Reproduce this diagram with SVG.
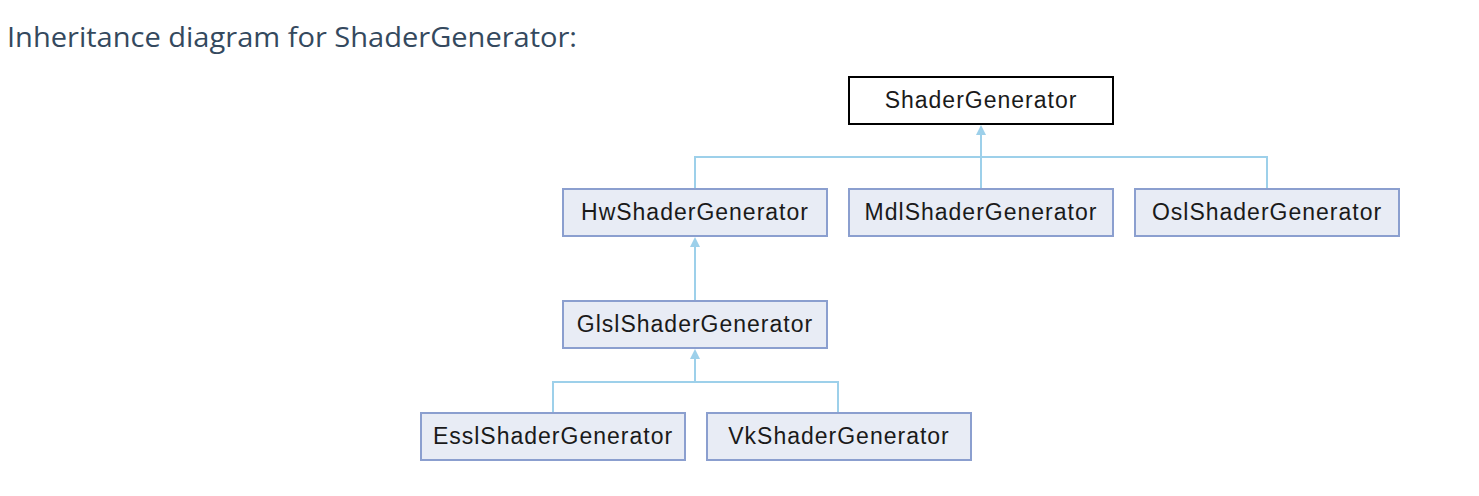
<svg xmlns="http://www.w3.org/2000/svg" width="1479" height="496" viewBox="0 0 1479 496">
<style>
.title{font-family:"Open Sans","Noto Sans",sans-serif;font-size:28px;fill:#34495e}
.box{fill:#e8ecf5;stroke:#8b9fcf;stroke-width:2}
.root{fill:#ffffff;stroke:#000000;stroke-width:2}
.lbl{font-family:"Liberation Sans",Arial,sans-serif;font-size:23px;letter-spacing:1px;fill:#1a1a1a;text-anchor:middle}
.edge{fill:none;stroke:#9dd0ea;stroke-width:2}
.ah{fill:#9dd0ea}
</style>
<rect width="1479" height="496" fill="#ffffff"/>
<text class="title" x="7" y="47" textLength="570" lengthAdjust="spacingAndGlyphs">Inheritance diagram for ShaderGenerator:</text>
<g id="connectors">
<path class="edge" d="M981,133 V188 M695,188 V157 H1267 V188"/>
<polygon class="ah" points="981,125 976,135 986,135"/>
<path class="edge" d="M695,245 V300"/>
<polygon class="ah" points="695,237 690,247 700,247"/>
<path class="edge" d="M695,357 V382 M553,412 V382 H838 V412"/>
<polygon class="ah" points="695,349 690,359 700,359"/>
</g>
<g id="ShaderGenerator"><rect class="root" x="849" y="77" width="264" height="47"/><text class="lbl" x="981" y="108">ShaderGenerator</text></g>
<g id="HwShaderGenerator"><rect class="box" x="563" y="189" width="264" height="47"/><text class="lbl" x="695" y="220">HwShaderGenerator</text></g>
<g id="MdlShaderGenerator"><rect class="box" x="849" y="189" width="264" height="47"/><text class="lbl" x="981" y="220">MdlShaderGenerator</text></g>
<g id="OslShaderGenerator"><rect class="box" x="1135" y="189" width="264" height="47"/><text class="lbl" x="1267" y="220">OslShaderGenerator</text></g>
<g id="GlslShaderGenerator"><rect class="box" x="563" y="301" width="264" height="47"/><text class="lbl" x="695" y="332">GlslShaderGenerator</text></g>
<g id="EsslShaderGenerator"><rect class="box" x="421" y="413" width="264" height="47"/><text class="lbl" x="553" y="444">EsslShaderGenerator</text></g>
<g id="VkShaderGenerator"><rect class="box" x="707" y="413" width="264" height="47"/><text class="lbl" x="839" y="444">VkShaderGenerator</text></g>
</svg>
